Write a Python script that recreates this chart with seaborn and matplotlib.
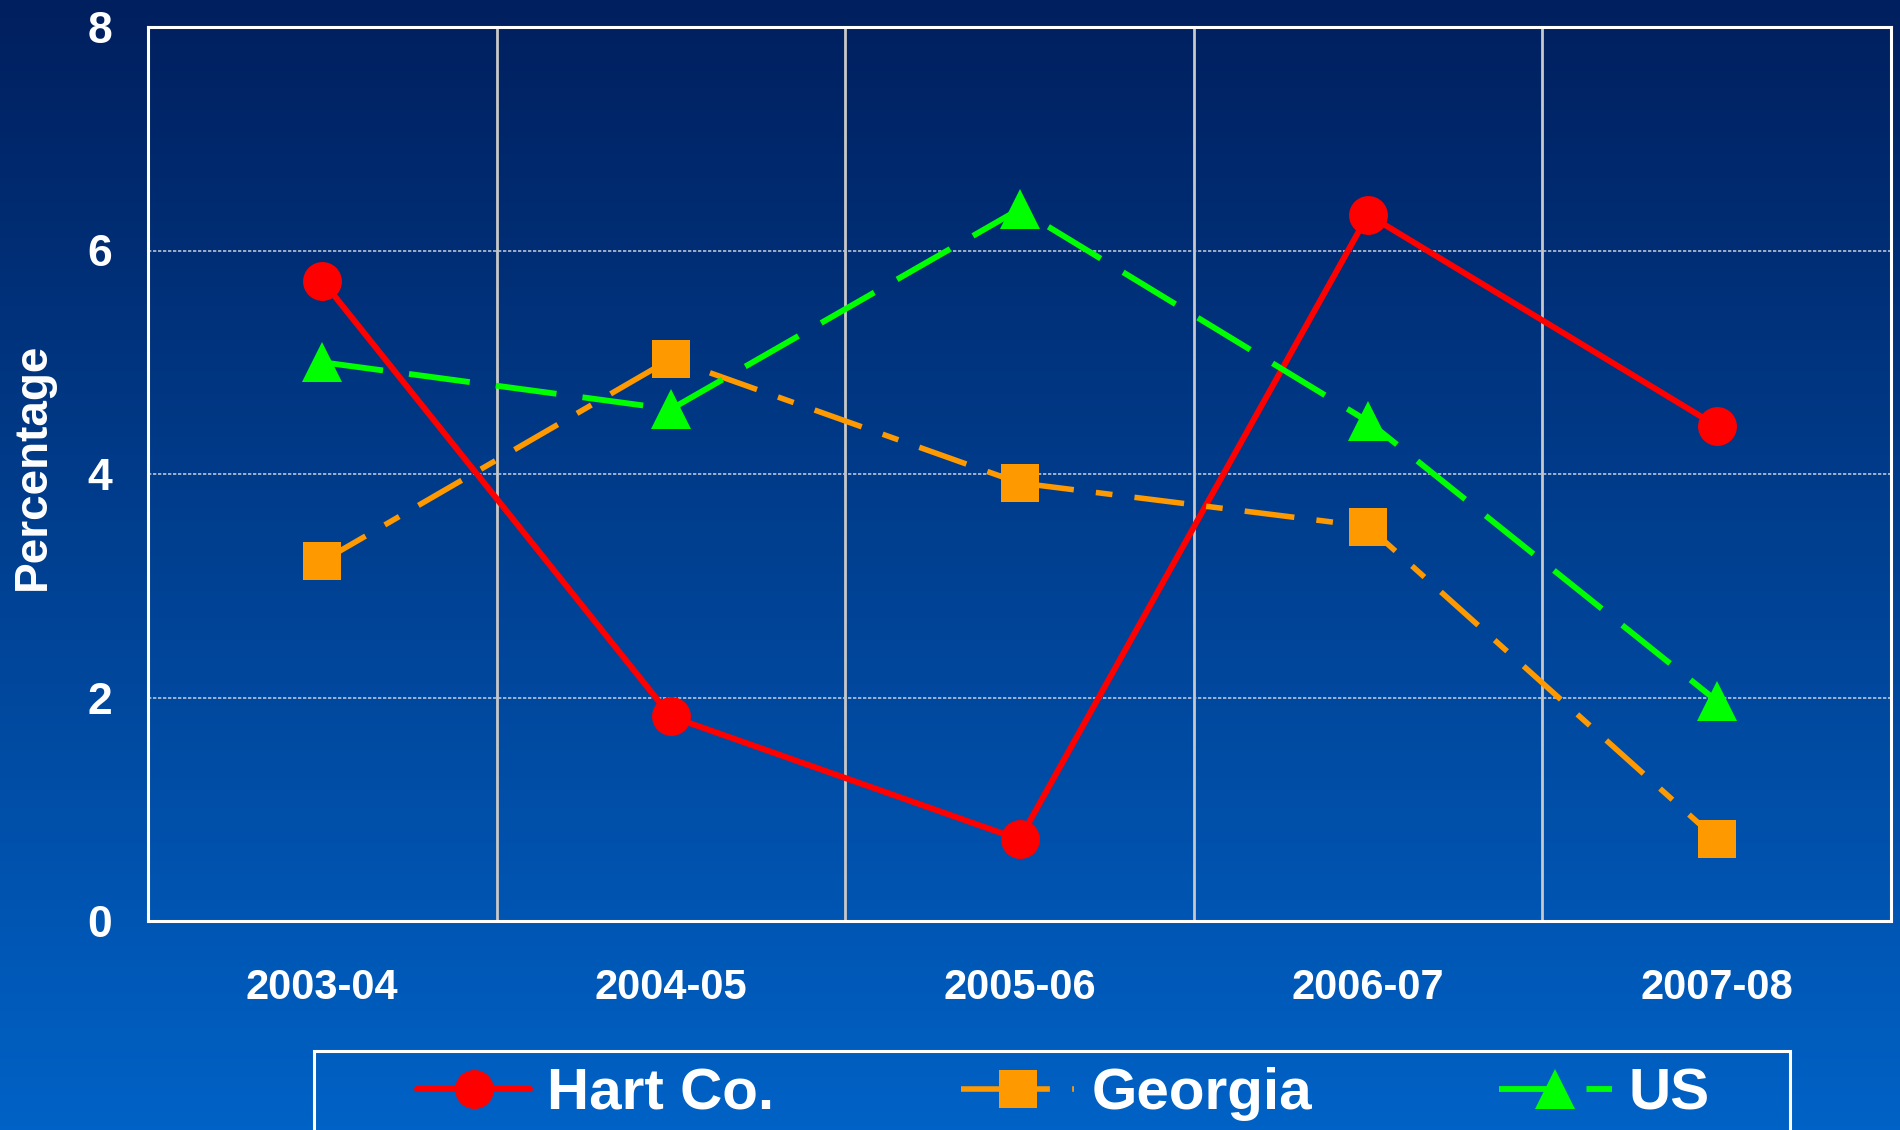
import numpy as np
import pandas as pd
import matplotlib
matplotlib.use("Agg")
import matplotlib.pyplot as plt
import seaborn as sns
from matplotlib import font_manager
from matplotlib.patches import Rectangle
from matplotlib.ticker import FixedLocator

# data
years = ["2003-04", "2004-05", "2005-06", "2006-07", "2007-08"]
hart = [5.73, 1.83, 0.73, 6.32, 4.43]
georgia = [3.22, 5.03, 3.92, 3.53, 0.73]
us = [5.0, 4.58, 6.37, 4.47, 1.97]
series_names = ["Hart Co.", "Georgia", "US"]
y_ticks = [0, 2, 4, 6, 8]

sns.set_style("white")

# narrow font for category labels and legend, if it is there
try:
    font_manager.findfont("Liberation Sans Narrow", fallback_to_default=False)
    narrow = "Liberation Sans Narrow"
    leg_size = 48
except Exception:
    narrow = "Liberation Sans"
    leg_size = 42
plt.rcParams["font.family"] = ["Liberation Sans", "DejaVu Sans"]

W, H = 1900, 1130
fig = plt.figure(figsize=(W / 100, H / 100), dpi=100)

# gradient background over the whole figure
bg = fig.add_axes([0, 0, 1, 1], zorder=-10)
top = np.array([0x00, 0x1F, 0x5E]) / 255
bot = np.array([0x00, 0x62, 0xC6]) / 255
t = np.linspace(0, 1, 256)[:, None]
grad = (top * (1 - t) + bot * t)[:, None, :]
bg.imshow(grad, aspect="auto", extent=[0, 1, 0, 1])
bg.axis("off")

ax = fig.add_axes([148 / W, 1 - 921 / H, (1891 - 148) / W, (921 - 27) / H])
ax.set_facecolor("none")

df = pd.DataFrame({"Year": years, "Hart Co.": hart, "Georgia": georgia, "US": us})

styles = {
    "Hart Co.": dict(color="#FF0000", marker="o", dashes=None, lw=4.3, ms=28),
    "Georgia": dict(color="#FF9900", marker="s", dashes=(9, 4, 3, 4), lw=4.0, ms=27),
    "US": dict(color="#00FF00", marker="^", dashes=(10.5, 4.5), lw=4.2, ms=29),
}

for name in series_names:
    st = styles[name]
    sns.lineplot(data=df, x="Year", y=name, ax=ax, color=st["color"],
                 marker=st["marker"], markersize=st["ms"], linewidth=st["lw"],
                 markeredgewidth=0, label=name, sort=False)
    line = ax.lines[-1]
    if st["dashes"] is not None:
        line.set_dashes(st["dashes"])

ax.set_xlim(-0.5, len(years) - 0.5)
ax.set_ylim(0, 8)
ax.set_yticks(y_ticks)
ax.set_xlabel("")
ax.set_ylabel("")

# vertical lines between categories
ax.xaxis.set_minor_locator(FixedLocator(np.arange(-0.5, len(years), 1.0)))
ax.grid(False)
ax.grid(True, which="minor", axis="x", color="#C8C8C8", lw=2)
ax.grid(True, which="major", axis="y", color="#B8C4D8", lw=1.2, linestyle=(0, (2, 1)))

for s in ax.spines.values():
    s.set_color("white")
    s.set_linewidth(2.2)

ax.tick_params(axis="x", which="major", length=0, pad=34, colors="white")
ax.tick_params(axis="x", which="minor", length=10, width=2, direction="out", color="white")
ax.tick_params(axis="y", which="major", length=9, width=2, direction="in", pad=26, colors="white")

for lab in ax.get_xticklabels():
    lab.set_fontfamily(narrow)
    lab.set_fontweight("bold")
    lab.set_fontsize(30)
for lab in ax.get_yticklabels():
    lab.set_fontweight("bold")
    lab.set_fontsize(32)

fig.text(33 / W, 1 - 466 / H, "Percentage", rotation=90, ha="center", va="center",
         color="white", fontsize=33, fontweight="bold")

# legend box, runs off the bottom edge
fig.patches.append(Rectangle((314 / W, -0.02), (1790 - 314) / W, 0.02 + (1 - 1051 / H),
                             transform=fig.transFigure, fill=False, ec="white", lw=2.2))
em = leg_size * 100 / 72
handles, labels = ax.get_legend_handles_labels()
ax.legend(handles, labels, loc="center left", bbox_to_anchor=(417 / W, 1 - 1094 / H),
          bbox_transform=fig.transFigure, ncol=3, frameon=False, borderpad=0,
          borderaxespad=0, handlelength=113 / em, handletextpad=17 / em,
          columnspacing=187 / em,
          prop={"family": narrow, "weight": "bold", "size": leg_size}, labelcolor="white")

fig.savefig("out.png", dpi=100)
